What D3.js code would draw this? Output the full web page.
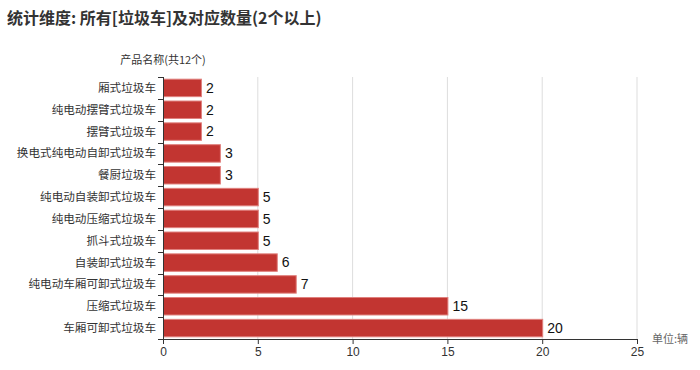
<!DOCTYPE html>
<html>
<head>
<meta charset="utf-8">
<script src="https://cdn.jsdelivr.net/npm/d3@7"></script>
<style>
  body { margin: 0; background: #fff; }
  svg { font-family: "Noto Sans CJK SC", "Noto Sans", sans-serif; }
</style>
</head>
<body>
<div id="chart"></div>
<script>
// data, top to bottom as drawn
const categories = [
    '厢式垃圾车',
    '纯电动摆臂式垃圾车',
    '摆臂式垃圾车',
    '换电式纯电动自卸式垃圾车',
    '餐厨垃圾车',
    '纯电动自装卸式垃圾车',
    '纯电动压缩式垃圾车',
    '抓斗式垃圾车',
    '自装卸式垃圾车',
    '纯电动车厢可卸式垃圾车',
    '压缩式垃圾车',
    '车厢可卸式垃圾车'
];
const counts = [2, 2, 2, 3, 3, 5, 5, 5, 6, 7, 15, 20];
const xTicks = [0, 5, 10, 15, 20, 25];

const titleText = '统计维度: 所有[垃圾车]及对应数量(2个以上)';
const yAxisName = '产品名称(共12个)';
const xAxisName = '单位:辆';

const width = 700, height = 370;
const margin = { top: 77, right: 63, bottom: 31, left: 163 };

const $svg = d3.select('#chart')
    .append('svg')
    .attr('width', width)
    .attr('height', height);

const x = d3.scaleLinear()
    .domain([0, 25])
    .range([margin.left, width - margin.right]);

const y = d3.scaleBand()
    .domain(categories)
    .range([margin.top, height - margin.bottom])
    .paddingInner(0.2)
    .paddingOuter(0.1);

// title
$svg.append('text')
    .attr('x', 7)
    .attr('y', 24)
    .attr('font-size', 16)
    .attr('font-weight', 'bold')
    .attr('fill', '#333')
    .text(titleText);

// vertical grid lines
$svg.append('g')
    .selectAll('line')
    .data(xTicks.slice(1))
    .enter()
    .append('line')
    .attr('x1', d => x(d))
    .attr('x2', d => x(d))
    .attr('y1', margin.top)
    .attr('y2', height - margin.bottom)
    .attr('stroke', '#ddd')
    .attr('stroke-width', 1);

// bars
const data = categories.map((c, i) => ({ name: c, value: counts[i] }));

$svg.append('g')
    .selectAll('rect')
    .data(data)
    .enter()
    .append('rect')
    .attr('x', x(0) + 0.5)
    .attr('y', d => y(d.name))
    .attr('width', d => x(d.value) - x(0))
    .attr('height', y.bandwidth())
    .attr('fill', '#c23531')
    .attr('stroke', '#e0807d')
    .attr('stroke-width', 1);

// value labels
$svg.append('g')
    .selectAll('text')
    .data(data)
    .enter()
    .append('text')
    .attr('x', d => x(d.value) + 5)
    .attr('y', d => y(d.name) + y.bandwidth() / 2)
    .attr('dy', '0.35em')
    .attr('font-size', 14)
    .attr('fill', '#111')
    .style('font-family', '"Liberation Sans", Arial, sans-serif')
    .text(d => d.value);

// x axis
const xAxis = d3.axisBottom(x)
    .tickValues(xTicks)
    .tickSize(5)
    .tickPadding(3);

const $xAxis = $svg.append('g')
    .attr('transform', `translate(0,${height - margin.bottom})`)
    .call(xAxis);
$xAxis.select('.domain').attr('stroke', '#333');
$xAxis.selectAll('.tick line').attr('stroke', '#333');
$xAxis.selectAll('.tick text')
    .attr('font-size', 12)
    .attr('fill', '#333')
    .style('font-family', '"Liberation Sans", Arial, sans-serif');

// y axis: ticks at band edges
const yScaleEdges = categories.map(c => y(c) - y.step() * y.paddingInner() / 2);
yScaleEdges.push(height - margin.bottom);

const $yAxis = $svg.append('g');
$yAxis.append('line')
    .attr('x1', x(0) + 0.5)
    .attr('x2', x(0) + 0.5)
    .attr('y1', margin.top)
    .attr('y2', height - margin.bottom)
    .attr('stroke', '#333');
$yAxis.selectAll('.edge')
    .data(yScaleEdges)
    .enter()
    .append('line')
    .attr('class', 'edge')
    .attr('x1', x(0) - 5)
    .attr('x2', x(0))
    .attr('y1', d => Math.round(d) + 0.5)
    .attr('y2', d => Math.round(d) + 0.5)
    .attr('stroke', '#333');
$yAxis.selectAll('.cat')
    .data(categories)
    .enter()
    .append('text')
    .attr('class', 'cat')
    .attr('x', x(0) - 7)
    .attr('y', d => y(d) + y.bandwidth() / 2)
    .attr('dy', '0.35em')
    .attr('text-anchor', 'end')
    .attr('font-size', 11.6)
    .attr('fill', '#333')
    .text(d => d);

// axis names
$svg.append('text')
    .attr('x', x(0))
    .attr('y', 60)
    .attr('dy', '0.35em')
    .attr('text-anchor', 'middle')
    .attr('font-size', 11)
    .attr('fill', '#333')
    .text(yAxisName);

$svg.append('text')
    .attr('x', x(25) + 15)
    .attr('y', height - margin.bottom)
    .attr('dy', '0.35em')
    .attr('font-size', 11)
    .attr('fill', '#666')
    .text(xAxisName);
</script>
</body>
</html>
